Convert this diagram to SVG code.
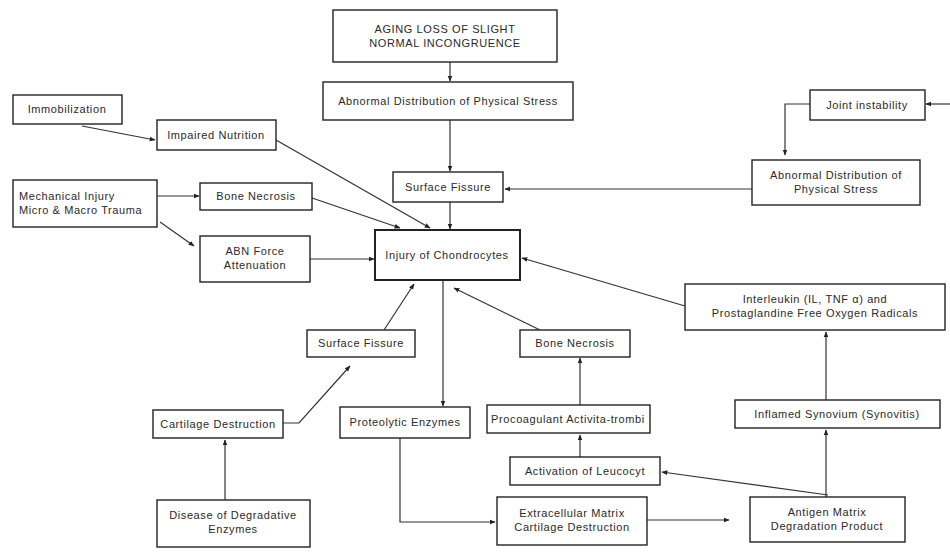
<svg xmlns="http://www.w3.org/2000/svg" width="950" height="557" viewBox="0 0 950 557">
<style>
.b{fill:#fff;stroke:#222;stroke-width:1.4}
.t{font-family:"Liberation Sans",Arial,sans-serif;font-size:11px;fill:#2a2a2a;text-anchor:middle;letter-spacing:0.6px}
.l{text-anchor:start}
.c{fill:none;stroke:#333;stroke-width:1.2}
</style>
<defs>
<marker id="a" viewBox="0 0 10 10" refX="9" refY="5" markerWidth="5" markerHeight="5" orient="auto-start-reverse">
<path d="M0,1 L10,5 L0,9 z" fill="#222"/>
</marker>
</defs>
<rect width="950" height="557" fill="#fff"/>
<g id="connectors">
<line class="c" x1="450" y1="62" x2="450" y2="81" marker-end="url(#a)"/>
<line class="c" x1="450" y1="120" x2="450" y2="171" marker-end="url(#a)"/>
<line class="c" x1="450" y1="202" x2="450" y2="229" marker-end="url(#a)"/>
<line class="c" x1="82" y1="126" x2="155" y2="140" marker-end="url(#a)"/>
<line class="c" x1="276" y1="140" x2="430" y2="228" marker-end="url(#a)"/>
<line class="c" x1="950" y1="104" x2="926" y2="104" marker-end="url(#a)"/>
<polyline class="c" points="810,104 785,104 785,155" marker-end="url(#a)"/>
<line class="c" x1="752" y1="189" x2="505" y2="189" marker-end="url(#a)"/>
<line class="c" x1="157" y1="196" x2="199" y2="196" marker-end="url(#a)"/>
<line class="c" x1="312" y1="198" x2="400" y2="228" marker-end="url(#a)"/>
<line class="c" x1="160" y1="222" x2="194" y2="246" marker-end="url(#a)"/>
<line class="c" x1="310" y1="259" x2="374" y2="259" marker-end="url(#a)"/>
<line class="c" x1="443" y1="280" x2="443" y2="406" marker-end="url(#a)"/>
<line class="c" x1="384" y1="330" x2="414" y2="284" marker-end="url(#a)"/>
<polyline class="c" points="283,423 299,423 350,366" marker-end="url(#a)"/>
<line class="c" x1="225" y1="500" x2="225" y2="440" marker-end="url(#a)"/>
<polyline class="c" points="400,438 400,522 495,522" marker-end="url(#a)"/>
<line class="c" x1="647" y1="520" x2="729" y2="520" marker-end="url(#a)"/>
<line class="c" x1="828" y1="495" x2="662" y2="472" marker-end="url(#a)"/>
<line class="c" x1="580" y1="457" x2="580" y2="435" marker-end="url(#a)"/>
<line class="c" x1="580" y1="405" x2="580" y2="358" marker-end="url(#a)"/>
<line class="c" x1="540" y1="330" x2="454" y2="288" marker-end="url(#a)"/>
<line class="c" x1="826" y1="497" x2="826" y2="430" marker-end="url(#a)"/>
<line class="c" x1="826" y1="400" x2="826" y2="332" marker-end="url(#a)"/>
<line class="c" x1="685" y1="306" x2="522" y2="258" marker-end="url(#a)"/>
</g>
<g id="aging"><rect class="b" x="333" y="10" width="224" height="52"/><text class="t" x="445" y="33">AGING LOSS OF SLIGHT</text><text class="t" x="445" y="47">NORMAL INCONGRUENCE</text></g>
<g id="abn-top"><rect class="b" x="323" y="82" width="250" height="38"/><text class="t" x="448" y="105">Abnormal Distribution of Physical Stress</text></g>
<g id="immobilization"><rect class="b" x="13" y="95" width="109" height="29"/><text class="t" x="67" y="113">Immobilization</text></g>
<g id="impaired"><rect class="b" x="157" y="120" width="119" height="30"/><text class="t" x="216" y="139">Impaired Nutrition</text></g>
<g id="joint"><rect class="b" x="810" y="90" width="115" height="30"/><text class="t" x="867" y="109">Joint instability</text></g>
<g id="abn-right"><rect class="b" x="752" y="160" width="168" height="45"/><text class="t" x="836" y="179">Abnormal Distribution of</text><text class="t" x="836" y="193">Physical Stress</text></g>
<g id="fissure-top"><rect class="b" x="393" y="172" width="110" height="30"/><text class="t" x="448" y="191">Surface Fissure</text></g>
<g id="mechanical"><rect class="b" x="13" y="180" width="144" height="47"/><text class="t l" x="19" y="200">Mechanical Injury</text><text class="t l" x="19" y="214">Micro &amp; Macro Trauma</text></g>
<g id="bone-left"><rect class="b" x="200" y="183" width="112" height="27"/><text class="t" x="256" y="200">Bone Necrosis</text></g>
<g id="abn-force"><rect class="b" x="200" y="236" width="110" height="46"/><text class="t" x="255" y="255">ABN Force</text><text class="t" x="255" y="269">Attenuation</text></g>
<g id="injury"><rect class="b" x="375" y="230" width="145" height="50" style="stroke-width:2"/><text class="t" x="447" y="259">Injury of Chondrocytes</text></g>
<g id="interleukin"><rect class="b" x="685" y="284" width="260" height="46"/><text class="t" x="815" y="303">Interleukin (IL, TNF α) and</text><text class="t" x="815" y="317">Prostaglandine Free Oxygen Radicals</text></g>
<g id="fissure-low"><rect class="b" x="307" y="330" width="108" height="27"/><text class="t" x="361" y="347">Surface Fissure</text></g>
<g id="bone-low"><rect class="b" x="520" y="330" width="110" height="27"/><text class="t" x="575" y="347">Bone Necrosis</text></g>
<g id="inflamed"><rect class="b" x="735" y="400" width="205" height="28"/><text class="t" x="837" y="418">Inflamed Synovium (Synovitis)</text></g>
<g id="procoag"><rect class="b" x="487" y="405" width="163" height="28"/><text class="t" x="568" y="423">Procoagulant Activita-trombi</text></g>
<g id="cartilage"><rect class="b" x="153" y="410" width="130" height="28"/><text class="t" x="218" y="428">Cartilage Destruction</text></g>
<g id="proteolytic"><rect class="b" x="340" y="407" width="130" height="31"/><text class="t" x="405" y="426">Proteolytic Enzymes</text></g>
<g id="activation"><rect class="b" x="510" y="457" width="150" height="28"/><text class="t" x="585" y="475">Activation of Leucocyt</text></g>
<g id="disease"><rect class="b" x="157" y="500" width="153" height="47"/><text class="t" x="233" y="519">Disease of Degradative</text><text class="t" x="233" y="533">Enzymes</text></g>
<g id="ecm"><rect class="b" x="497" y="497" width="150" height="48"/><text class="t" x="572" y="517">Extracellular Matrix</text><text class="t" x="572" y="531">Cartilage Destruction</text></g>
<g id="antigen"><rect class="b" x="750" y="497" width="155" height="45"/><text class="t" x="827" y="516">Antigen Matrix</text><text class="t" x="827" y="530">Degradation Product</text></g>
</svg>
